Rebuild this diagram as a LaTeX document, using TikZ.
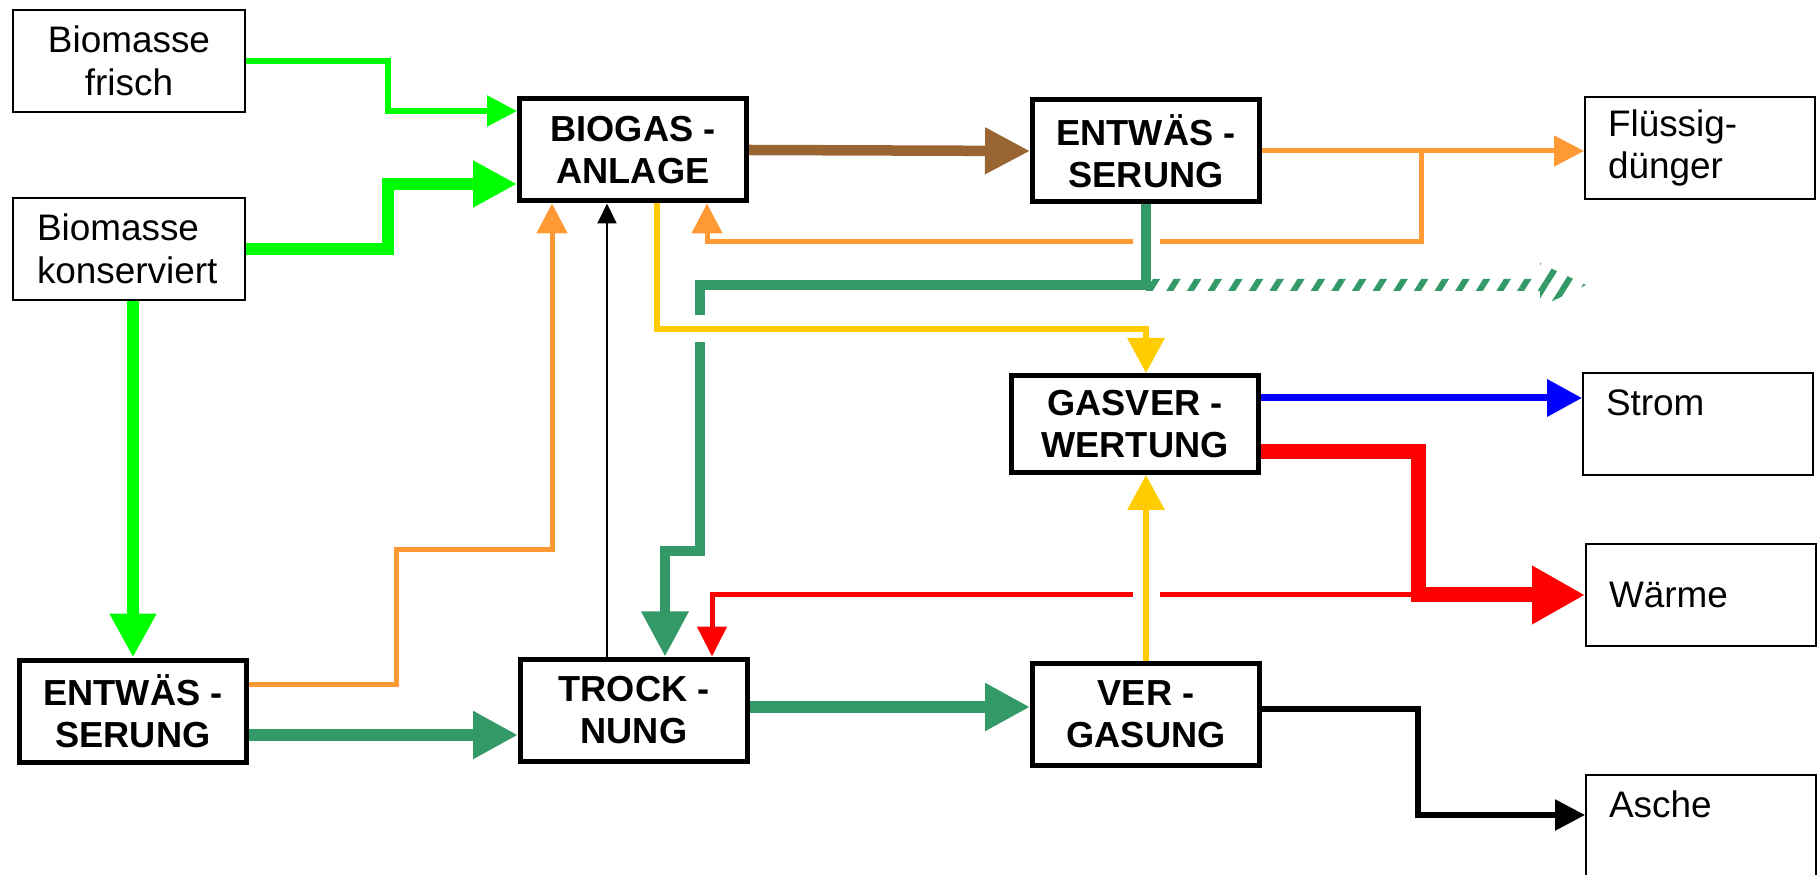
\documentclass[tikz,border=0pt]{standalone}
\usepackage{fontspec}
\setmainfont{Liberation Sans}
\usetikzlibrary{arrows.meta,calc,patterns.meta}
\definecolor{Fresh}{HTML}{00FF00}
\definecolor{Wet}{HTML}{339966}
\definecolor{Digest}{HTML}{996633}
\definecolor{Liquid}{HTML}{FF9933}
\definecolor{Gas}{HTML}{FFCC00}
\definecolor{Power}{HTML}{0000FF}
\definecolor{Heat}{HTML}{FF0000}
\newcommand{\boxfont}{\fontsize{10.5}{12.2}\selectfont}
\tikzset{
  srcbox/.style={draw=black,line width=0.2mm,minimum width=23.2mm,minimum height=10.2mm,align=center,font=\boxfont,inner sep=0pt},
  procbox/.style={draw=black,line width=0.5mm,minimum width=22.7mm,minimum height=10.2mm,align=center,font=\fontsize{10.3}{12.1}\selectfont\bfseries,inner sep=0pt},
  sinkbox/.style={draw=black,line width=0.2mm,minimum width=23mm,minimum height=10.2mm,text width=18.4mm,align=left,inner xsep=2.3mm,inner ysep=0pt,font=\boxfont},
  crossgap/.style={preaction={draw=white,line width=2.7mm,-}},
  fresharr/.style={-{Triangle[length=3mm,width=3mm]},draw=Fresh,line width=0.55mm},
  freshbig/.style={-{Triangle[length=4.4mm,width=4.4mm]},draw=Fresh,line width=1.15mm},
  wetarr/.style={-{Triangle[length=4.5mm,width=4.5mm]},draw=Wet,line width=1.15mm},
  digarr/.style={-{Triangle[length=4.5mm,width=4.4mm]},draw=Digest,line width=1.05mm},
  liqarr/.style={-{Triangle[length=3mm,width=3mm]},draw=Liquid,line width=0.5mm},
  gasarr/.style={-{Triangle[length=3.5mm,width=3.6mm]},draw=Gas,line width=0.65mm},
  powarr/.style={-{Triangle[length=3.5mm,width=3.6mm]},draw=Power,line width=0.7mm},
  heatbig/.style={-{Triangle[length=5.3mm,width=5.5mm]},draw=Heat,line width=1.5mm},
  heatarr/.style={-{Triangle[length=3mm,width=2.9mm]},draw=Heat,line width=0.5mm},
  asharr/.style={-{Triangle[length=3mm,width=3mm]},draw=black,line width=0.55mm},
  thinarr/.style={-{Triangle[length=2mm,width=1.9mm]},draw=black,line width=0.2mm}
}
\begin{document}
\begin{tikzpicture}[x=0.1mm,y=-0.1mm]
  \useasboundingbox (0,0) rectangle (1818,875);
  % boxes
  \node[srcbox] (frisch) at (129,61) {Biomasse\\frisch};
  \node[sinkbox,minimum width=23.2mm] (konserv) at (129,249) {Biomasse\\konserviert};
  \node[procbox] (biogas) at (633,150) {BIOGAS -\\ANLAGE};
  \node[procbox] (entw1) at (1146,151) {ENTWÄS -\\SERUNG};
  \node[sinkbox] (fluessig) at (1700,148) {Flüssig-\\dünger};
  \node[procbox,minimum width=24.7mm,minimum height=9.7mm] (gasver) at (1135,424) {GASVER -\\WERTUNG};
  \node[sinkbox] (strom) at (1698,424) {Strom\\\mbox{}};
  \node[sinkbox] (waerme) at (1701,595) {Wärme};
  \node[procbox] (entw2) at (133,711) {ENTWÄS -\\SERUNG};
  \node[procbox] (trock) at (634,710) {TROCK -\\NUNG};
  \node[procbox] (vergas) at (1146,714) {VER -\\GASUNG};
  \node[sinkbox] (asche) at (1701,826) {Asche\\\mbox{}};
  \coordinate (liqsplit) at (1421,151);
  \coordinate (wetsplit) at (entw1.south |- 0,285);
  \coordinate (wetend) at (1586,285);
  \coordinate (heatsplit) at (1418,595);
  % feed
  \draw[fresharr] (frisch.east) -| (388,111) -- (biogas.west |- 0,111);
  \draw[freshbig] (konserv.east) -| (388,184) -- (biogas.west |- 0,184);
  \draw[freshbig] (konserv.south -| entw2.north) -- (entw2.north);
  % digestate
  \draw[digarr] (biogas.east) -- (entw1.west);
  \draw[liqarr] (entw1.east) -- (fluessig.west |- entw1.east);
  \draw[liqarr] (liqsplit) |- (707,242) -- (biogas.south -| 707,0);
  \draw[wetarr,line width=0.95mm,crossgap] (entw1.south) |- (700,285) -- (700,551) -| (trock.north -| 665,0);
  \path[pattern={Lines[angle=58,distance=1.75mm,line width=0.6mm]},pattern color=Wet]
    ($(wetsplit)+(0,-6)$) -- ($(wetend)+(-46,-6)$) -- ($(wetend)+(-46,-22)$) -- (wetend)
    -- ($(wetend)+(-46,22)$) -- ($(wetend)+(-46,6)$) -- ($(wetsplit)+(0,6)$) -- cycle;
  % gas and heat
  \draw[gasarr,crossgap] (biogas.south -| 657,0) |- (vergas.north |- 0,329) -- (gasver.north -| vergas.north);
  \draw[powarr] (gasver.east |- 0,398) -- (strom.west |- 0,398);
  \draw[heatbig] (gasver.east |- 0,452) -| (heatsplit) -- (waerme.west |- heatsplit);
  \draw[heatarr] (heatsplit) -| (trock.north -| 712,0);
  \draw[gasarr,crossgap] (vergas.north) -- (gasver.south -| vergas.north);
  % drying line
  \draw[liqarr] (entw2.east |- 0,684) -| (396,550) -| (biogas.south -| 552,0);
  \draw[thinarr] (trock.north -| 607,0) -- (biogas.south -| 607,0);
  \draw[wetarr] (entw2.east |- 0,735) -- (trock.west |- 0,735);
  \draw[wetarr] (trock.east |- 0,707) -- (vergas.west |- 0,707);
  \draw[asharr] (vergas.east |- 0,709) -| (1418,815) -- (asche.west |- 0,815);
\end{tikzpicture}
\end{document}
